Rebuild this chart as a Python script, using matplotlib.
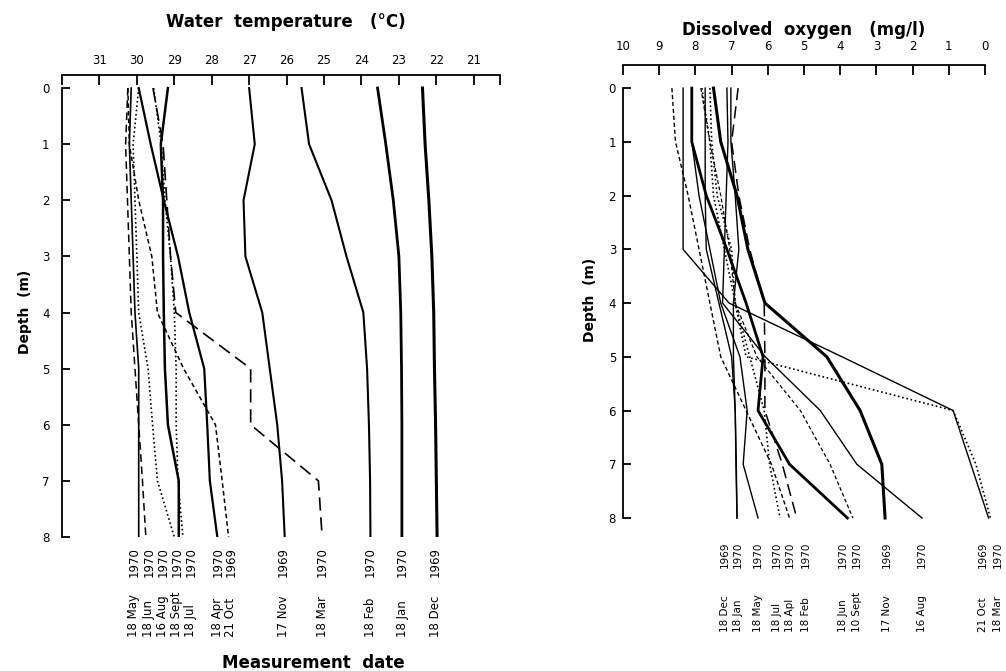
import matplotlib
matplotlib.use("Agg")
import matplotlib.pyplot as plt
import matplotlib.transforms as mtransforms

plt.rcParams['font.family'] = ['DejaVu Sans']

depth = [0, 1, 2, 3, 4, 5, 6, 7, 8]

# water temperature profiles (deg C), one list per measurement date
temp_dates = ['18 May', '18 Jun', '16 Aug', '18 Sept', '18 Jul', '18 Apr',
              '21 Oct', '17 Nov', '18 Mar', '18 Feb', '18 Jan', '18 Dec']
temp_years = ['1970', '1970', '1970', '1970', '1970', '1970',
              '1969', '1969', '1970', '1970', '1970', '1969']
temp_values = [
    [30.15, 30.2, 30.15, 30.1, 30.05, 29.95, 29.95, 29.95, 29.95],
    [30.24, 30.3, 30.25, 30.2, 30.15, 30.05, 29.95, 29.85, 29.76],
    [29.95, 30.1, 30.05, 30.0, 29.95, 29.7, 29.58, 29.45, 29.0],
    [29.55, 29.35, 29.25, 29.1, 29.0, 28.95, 28.95, 28.9, 28.77],
    [29.17, 29.36, 29.3, 29.3, 29.28, 29.25, 29.17, 28.88, 28.88],
    [29.95, 29.63, 29.28, 28.9, 28.6, 28.2, 28.12, 28.05, 27.85],
    [30.24, 30.2, 29.95, 29.6, 29.45, 28.75, 27.9, 27.72, 27.55],
    [27.0, 26.85, 27.15, 27.1, 26.65, 26.45, 26.25, 26.12, 26.05],
    [29.57, 29.3, 29.2, 29.1, 28.96, 26.96, 26.96, 25.15, 25.05],
    [25.6, 25.4, 24.8, 24.4, 23.95, 23.85, 23.8, 23.77, 23.76],
    [23.57, 23.35, 23.15, 23.0, 22.95, 22.93, 22.92, 22.92, 22.92],
    [22.37, 22.3, 22.2, 22.12, 22.07, 22.05, 22.02, 22.0, 21.98],
]
temp_ticks = [31, 30, 29, 28, 27, 26, 25, 24, 23, 22, 21]

# dissolved oxygen profiles (mg/l)
ox_dates = ['18 Dec', '18 Jan', '18 May', '18 Jul', '18 Apl', '18 Feb',
            '18 Jun', '10 Sept', '17 Nov', '16 Aug', '21 Oct', '18 Mar']
ox_years = ['1969', '1970', '1970', '1970', '1970', '1970',
            '1970', '1970', '1969', '1970', '1969', '1970']
ox_values = [
    [7.73, 7.73, 7.73, 7.7, 7.35, 7.0, 6.9, 6.88, 6.85],
    [7.02, 7.02, 6.9, 6.8, 6.95, 6.95, 6.9, 6.87, 6.85],
    [8.1, 8.1, 7.9, 7.6, 7.3, 6.77, 6.57, 6.68, 6.27],
    [7.82, 7.6, 7.5, 7.2, 6.9, 6.5, 6.1, 5.95, 5.66],
    [8.65, 8.55, 8.2, 7.9, 7.6, 7.3, 6.6, 5.9, 5.4],
    [6.82, 7.0, 6.8, 6.5, 6.1, 6.08, 6.08, 5.6, 5.2],
    [8.1, 8.1, 7.7, 7.13, 6.6, 6.13, 6.27, 5.4, 3.8],
    [7.85, 7.6, 7.3, 7.05, 6.9, 6.3, 5.1, 4.28, 3.65],
    [7.5, 7.3, 6.85, 6.55, 6.08, 4.37, 3.45, 2.85, 2.76],
    [7.13, 7.1, 7.15, 7.2, 7.25, 6.07, 4.55, 3.54, 1.74],
    [8.34, 8.34, 8.34, 8.34, 7.07, 3.95, 0.88, 0.39, -0.1],
    [7.6, 7.55, 7.4, 7.0, 6.9, 6.6, 0.88, 0.25, -0.15],
]
ox_ticks = [10, 9, 8, 7, 6, 5, 4, 3, 2, 1, 0]

# line styles and label positions (layout only)
solid = '-'
dot = (0, (1, 1.6))
dash = (0, (5, 3))
sdash = (0, (3, 2))
ldash = (0, (8, 4))
temp_styles = [(solid, 1.2), (dash, 1.1), (dot, 1.2), (dot, 1.2), (solid, 1.8), (solid, 1.6),
               (sdash, 1.1), (solid, 1.5), (ldash, 1.2), (solid, 1.5), (solid, 2.0), (solid, 2.2)]
temp_label_x = [30.08, 29.68, 29.31, 28.93, 28.56, 27.84, 27.49, 26.08, 25.04, 23.76, 22.91, 22.03]
ox_styles = [(solid, 1.0), (solid, 1.0), (solid, 1.0), (dot, 1.2), (sdash, 1.0), (ldash, 1.1),
             (solid, 2.0), (sdash, 0.9), (solid, 2.2), (solid, 1.0), (solid, 1.0), (dot, 1.2)]
ox_label_x = [7.18, 6.82, 6.27, 5.75, 5.39, 4.94, 3.92, 3.54, 2.72, 1.74, 0.06, -0.36]

fig = plt.figure(figsize=(10.06, 6.71), dpi=100)


def style_axis(ax, xlim, ylim, ticks, xpad, ypad):
    ax.set_xlim(*xlim)
    ax.set_ylim(*ylim)
    ax.spines['right'].set_visible(False)
    ax.spines['bottom'].set_visible(False)
    ax.spines['left'].set_bounds(0, 8)
    for s in ('left', 'top'):
        ax.spines[s].set_linewidth(1.3)
    ax.xaxis.tick_top()
    ax.set_xticks(ticks)
    ax.set_xticklabels([str(t) for t in ticks])
    ax.set_yticks(depth)
    ax.tick_params(axis='x', direction='in', length=7, width=1.3, pad=xpad, labelsize=8.5)
    ax.tick_params(axis='y', direction='in', length=6, width=1.3, pad=ypad, labelsize=8.5)


# left: water temperature
ax1 = fig.add_axes([0.0616, 0.1997, 0.4354, 0.6885])
for vals, (ls, lw) in zip(temp_values, temp_styles):
    ax1.plot(vals, depth, color='black', linestyle=ls, linewidth=lw)
style_axis(ax1, (32, 20.3), (8, -0.232), temp_ticks, 6, 9)
ax1.set_xticks([32, 20.3], minor=True)
ax1.tick_params(axis='x', which='minor', direction='in', length=7, width=1.3, top=True, bottom=False)

tr1 = mtransforms.blended_transform_factory(ax1.transData, fig.transFigure)
for x, d, y in zip(temp_label_x, temp_dates, temp_years):
    ax1.text(x, 0.140, y, rotation=90, ha='center', va='bottom', fontsize=8.5, transform=tr1, clip_on=False)
    ax1.text(x, 0.051, d, rotation=90, ha='center', va='bottom', fontsize=8.5, transform=tr1, clip_on=False)

# right: dissolved oxygen
ax2 = fig.add_axes([0.6193, 0.228, 0.3598, 0.675])
for vals, (ls, lw) in zip(ox_values, ox_styles):
    ax2.plot(vals, depth, color='black', linestyle=ls, linewidth=lw, clip_on=False)
style_axis(ax2, (10, 0), (8, -0.428), ox_ticks, 9, 5)

tr2 = mtransforms.blended_transform_factory(ax2.transData, fig.transFigure)
for x, d, y in zip(ox_label_x, ox_dates, ox_years):
    ax2.text(x, 0.1535, y, rotation=90, ha='center', va='bottom', fontsize=7.5, transform=tr2, clip_on=False)
    ax2.text(x, 0.058, d, rotation=90, ha='center', va='bottom', fontsize=7.5, transform=tr2, clip_on=False)

fig.text(0.284, 0.967, 'Water  temperature   (°C)', ha='center', va='center', fontsize=12, fontweight='bold')
fig.text(0.799, 0.955, 'Dissolved  oxygen   (mg/l)', ha='center', va='center', fontsize=12, fontweight='bold')
fig.text(0.311, 0.012, 'Measurement  date', ha='center', va='center', fontsize=12, fontweight='bold')
fig.text(0.0249, 0.535, 'Depth  (m)', ha='center', va='center', rotation=90, fontsize=10, fontweight='bold')
fig.text(0.5865, 0.553, 'Depth  (m)', ha='center', va='center', rotation=90, fontsize=10, fontweight='bold')

fig.savefig('out.png', dpi=100)
